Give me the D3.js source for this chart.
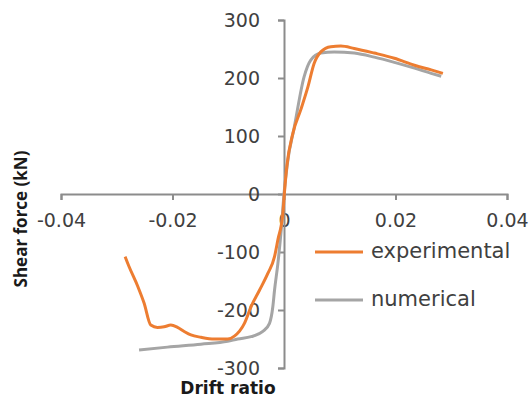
<!DOCTYPE html>
<html>
<head>
<meta charset="utf-8">
<script src="https://cdn.jsdelivr.net/npm/d3@7"></script>
<style>
  body { margin: 0; background: #fff; }
  svg { display: block; font-family: "DejaVu Sans", sans-serif; }
</style>
</head>
<body>
<div id="chart"></div>
<script>
// drift ratio / shear force (kN)
let expX = [-0.0285, -0.0278, -0.0262, -0.0251, -0.0239, -0.0227, -0.0215, -0.0203, -0.0191, -0.0179,
    -0.0167, -0.0149, -0.0125, -0.0101, -0.0089, -0.0071, -0.0059, -0.0044, -0.0029, -0.0017,
    -0.0011, -0.0002, 0.0001, 0.0005, 0.0016, 0.0030, 0.0043, 0.0054, 0.0066, 0.0084,
    0.0102, 0.0126, 0.0162, 0.0198, 0.0234, 0.0264, 0.0285];
let expY = [-108, -125, -160, -188, -226, -230, -229, -226, -230, -237,
    -243, -247, -250, -250, -245, -223, -194, -166, -137, -108,
    -79, -33, 5, 47, 105, 145, 185, 225, 245, 254,
    255, 251, 243, 234, 222, 214, 208];

let numX = [-0.0260, -0.0209, -0.0149, -0.0101, -0.0083, -0.0059, -0.0038, -0.0026, -0.0020, -0.0017,
    -0.0011, -0.0005, 0, 0.0007, 0.0018, 0.0036, 0.0048, 0.0066, 0.0090, 0.0126,
    0.0162, 0.0198, 0.0234, 0.0264, 0.0282];
let numY = [-269, -264, -259, -254, -250, -246, -237, -223, -194, -166,
    -120, -62, 0, 59, 113, 202, 231, 243, 245, 243,
    236, 227, 217, 208, 203];

let xTicks = [-0.04, -0.02, 0, 0.02, 0.04];
let yTicks = [-300, -200, -100, 0, 100, 200, 300];
let seriesNames = ["experimental", "numerical"];
let seriesColors = ["#ED7D31", "#A5A5A5"];

let width = 531;
let height = 397;

let svg = d3.select('#chart')
    .append('svg')
    .attr('width', width)
    .attr('height', height);

let x = d3.scaleLinear().domain([-0.04, 0.04]).range([61, 507]);
let y = d3.scaleLinear().domain([-300, 300]).range([368, 20]);

// plain hyphen for negative numbers, like the original
let loc = d3.formatLocale({decimal: ".", thousands: ",", grouping: [3], currency: ["", ""], minus: "-"});

// x axis on y = 0
let xAxis = d3.axisBottom(x)
    .tickValues(xTicks)
    .tickSize(6)
    .tickPadding(12)
    .tickFormat(d => d === 0 ? "0" : loc.format('.2f')(d));
let gx = svg.append('g')
    .attr('transform', 'translate(0,' + y(0) + ')')
    .call(xAxis);

// y axis on x = 0
let yAxis = d3.axisLeft(y)
    .tickValues(yTicks)
    .tickSize(6)
    .tickPadding(18)
    .tickFormat(loc.format('d'));
let gy = svg.append('g')
    .attr('transform', 'translate(' + x(0) + ',0)')
    .call(yAxis);

[gx, gy].forEach(function (g) {
    g.select('.domain').attr('stroke', '#8c8c8c').attr('stroke-width', 2);
    g.selectAll('.tick line').attr('stroke', '#8c8c8c').attr('stroke-width', 2);
    g.selectAll('.tick text')
        .attr('fill', '#404040')
        .style('font-size', '19px')
        .style('font-family', '"DejaVu Sans", sans-serif');
});
gx.selectAll('.tick text').attr('dy', '0.8em');
gy.selectAll('.tick text').attr('dy', '0.35em');

let line = d3.line()
    .x(d => x(d[0]))
    .y(d => y(d[1]))
    .curve(d3.curveMonotoneX);

let numData = numX.map((v, i) => [v, numY[i]]);
let expData = expX.map((v, i) => [v, expY[i]]);

svg.append('path')
    .attr('d', line(numData))
    .attr('fill', 'none')
    .attr('stroke', seriesColors[1])
    .attr('stroke-width', 3)
    .attr('stroke-linejoin', 'round');

svg.append('path')
    .attr('d', line(expData))
    .attr('fill', 'none')
    .attr('stroke', seriesColors[0])
    .attr('stroke-width', 3)
    .attr('stroke-linejoin', 'round');

// legend
let legend = svg.append('g').attr('transform', 'translate(315,252)');
seriesNames.forEach(function (name, i) {
    let row = legend.append('g').attr('transform', 'translate(0,' + (i * 48) + ')');
    row.append('line')
        .attr('x1', 0).attr('x2', 48)
        .attr('stroke', seriesColors[i])
        .attr('stroke-width', 3);
    row.append('text')
        .attr('x', 56)
        .attr('dy', '0.3em')
        .attr('fill', '#404040')
        .style('font-size', '21px')
        .text(name);
});

// axis titles
svg.append('text')
    .attr('x', 228)
    .attr('y', 394)
    .attr('text-anchor', 'middle')
    .style('font-size', '17px')
    .style('font-weight', 'bold')
    .attr('fill', '#1a1a1a')
    .text('Drift ratio');

svg.append('text')
    .attr('transform', 'translate(27,219) rotate(-90)')
    .attr('text-anchor', 'middle')
    .style('font-family', '"Open Sans", sans-serif')
    .style('font-size', '17px')
    .style('font-weight', 'bold')
    .attr('fill', '#1a1a1a')
    .text('Shear force (kN)');
</script>
</body>
</html>
